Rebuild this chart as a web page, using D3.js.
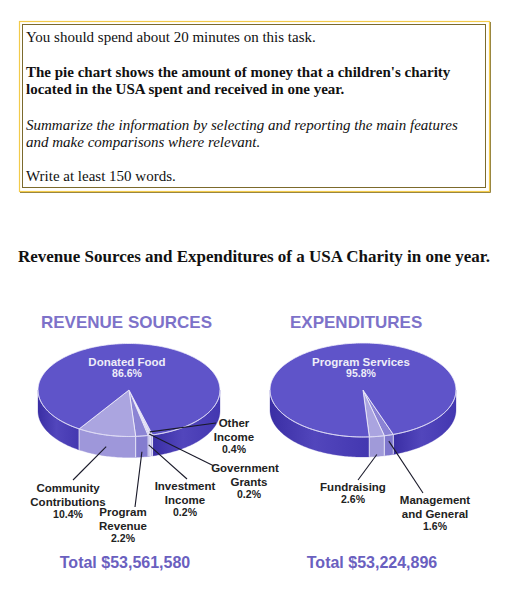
<!DOCTYPE html>
<html>
<head>
<meta charset="utf-8">
<script src="https://cdn.jsdelivr.net/npm/d3@7"></script>
<style>
  body { margin: 0; background: #fff; }
  svg { display: block; }
</style>
</head>
<body>
<div id="chart"></div>
<script>
// task prompt text
const promptLines = [
  "You should spend about 20 minutes on this task.",
  "The pie chart shows the amount of money that a children's charity",
  "located in the USA spent and received in one year.",
  "Summarize the information by selecting and reporting the main features",
  "and make comparisons where relevant.",
  "Write at least 150 words."
];
const chartTitle = "Revenue Sources and Expenditures of a USA Charity in one year.";

// revenue pie (clockwise from the front-right)
const revenueNames = ["Other Income", "Government Grants", "Investment Income", "Program Revenue", "Community Contributions", "Donated Food"];
const revenueValues = [0.4, 0.2, 0.2, 2.2, 10.4, 86.6];
const revenueTotal = "Total $53,561,580";

// expenditure pie
const expenseNames = ["Management and General", "Fundraising", "Program Services"];
const expenseValues = [1.6, 2.6, 95.8];
const expenseTotal = "Total $53,224,896";

const width = 505, height = 590;
const svg = d3.select("#chart").append("svg")
  .attr("width", width).attr("height", height);

/* ---- task box ---- */
svg.append("rect").attr("x", 19.5).attr("y", 21.5).attr("width", 470).attr("height", 170)
  .attr("fill", "none").attr("stroke", "#f3cb4a").attr("stroke-width", 1.2);
svg.append("path").attr("d", "M490.5,22V192.5H20")
  .attr("fill", "none").attr("stroke", "#9a8740").attr("stroke-width", 1);
svg.append("rect").attr("x", 22.5).attr("y", 24.5).attr("width", 463).attr("height", 163)
  .attr("fill", "none").attr("stroke", "#7c6a2c").attr("stroke-width", 1);

const promptStyle = [
  { y: 42, weight: "normal", style: "normal" },
  { y: 77, weight: "bold", style: "normal" },
  { y: 94, weight: "bold", style: "normal" },
  { y: 129.5, weight: "normal", style: "italic" },
  { y: 146.5, weight: "normal", style: "italic" },
  { y: 181, weight: "normal", style: "normal" }
];
svg.append("g")
  .selectAll("text")
  .data(promptLines)
  .join("text")
  .attr("x", 26)
  .attr("y", (d, i) => promptStyle[i].y)
  .attr("font-family", "'Liberation Serif', 'Times New Roman', serif")
  .attr("font-size", 15)
  .attr("font-weight", (d, i) => promptStyle[i].weight)
  .attr("font-style", (d, i) => promptStyle[i].style)
  .attr("fill", "#111")
  .text((d) => d);

svg.append("text")
  .attr("x", 18).attr("y", 262)
  .attr("font-family", "'Liberation Serif', 'Times New Roman', serif")
  .attr("font-size", 17).attr("font-weight", "bold")
  .attr("textLength", 472).attr("lengthAdjust", "spacingAndGlyphs")
  .attr("fill", "#111")
  .text(chartTitle);

/* ---- 3D pies ---- */
const defs = svg.append("defs");
function wallGradient(id, stops) {
  const g = defs.append("linearGradient").attr("id", id)
    .attr("x1", "0%").attr("x2", "100%").attr("y1", "0%").attr("y2", "0%");
  stops.forEach(([o, c]) => g.append("stop").attr("offset", o).attr("stop-color", c));
}
wallGradient("mainWall", [["0%", "#3a2ea4"], ["45%", "#5246bc"], ["100%", "#4337b0"]]);

const fmtPct = (v) => d3.format(".1f")(v) + "%";
const sans = "'Liberation Sans', Arial, sans-serif";

function drawPie(opts) {
  const { names, values, cx, cy, rx, ry, depth, start, topColors, wallColors, heading, headingX, total, totalX, labels } = opts;
  const g = svg.append("g");
  const arcs = d3.pie().sort(null)
    .startAngle(start).endAngle(start + 2 * Math.PI)(values);

  const pt = (a, k = 1, dy = 0) => [cx + Math.sin(a) * rx * k, cy - Math.cos(a) * ry * k + dy];
  const arcPoints = (a0, a1, dy) => {
    const n = Math.max(2, Math.ceil((a1 - a0) / 0.02));
    return d3.range(n + 1).map((i) => pt(a0 + (a1 - a0) * i / n, 1, dy));
  };
  const line = d3.line();

  // walls: parts of each slice facing the viewer
  arcs.forEach((d, i) => {
    [0, 1].forEach((k) => {
      const lo = Math.max(d.startAngle, Math.PI / 2 + 2 * Math.PI * k);
      const hi = Math.min(d.endAngle, 3 * Math.PI / 2 + 2 * Math.PI * k);
      if (hi <= lo) return;
      const pts = arcPoints(lo, hi, 0).concat(arcPoints(lo, hi, depth).reverse());
      g.append("path").attr("d", line(pts) + "Z")
        .attr("fill", wallColors[i]).attr("stroke", wallColors[i]).attr("stroke-width", 0.3);
    });
  });

  // slice boundaries on the wall
  arcs.forEach((d) => {
    const a = d.startAngle % (2 * Math.PI);
    if (a > Math.PI / 2 && a < 3 * Math.PI / 2) {
      const p0 = pt(a), p1 = pt(a, 1, depth);
      g.append("line").attr("x1", p0[0]).attr("y1", p0[1]).attr("x2", p1[0]).attr("y2", p1[1])
        .attr("stroke", "#eeeefa").attr("stroke-width", 0.9);
    }
  });

  // top faces
  g.selectAll("path.top")
    .data(arcs)
    .join("path")
    .attr("class", "top")
    .attr("d", (d) => line([[cx, cy]].concat(arcPoints(d.startAngle, d.endAngle, 0))) + "Z")
    .attr("fill", (d, i) => topColors[i])
    .attr("stroke", "#f2f1fb").attr("stroke-width", 0.8).attr("stroke-linejoin", "round");

  // rim highlight on the front edge
  g.append("path").attr("d", line(arcPoints(Math.PI / 2, 3 * Math.PI / 2, 0)))
    .attr("fill", "none").attr("stroke", "#d8d5f3").attr("stroke-width", 0.8).attr("opacity", 0.8);

  const big = arcs[arcs.length - 1];
  const bigText = g.append("text")
    .attr("x", cx).attr("text-anchor", "middle")
    .attr("font-family", sans)
    .attr("font-weight", "bold").attr("fill", "#eeedf8");
  bigText.append("tspan").attr("x", cx - 2).attr("y", cy - 24).attr("font-size", 11.5).text(names[names.length - 1]);
  bigText.append("tspan").attr("x", cx - 2).attr("y", cy - 13).attr("font-size", 10.5).text(fmtPct(big.data));

  // small-slice labels with leader lines
  arcs.slice(0, -1).forEach((d, i) => {
    const lab = labels[names[i]];
    const mid = (d.startAngle + d.endAngle) / 2;
    const p = pt(mid, lab.k, lab.h * depth);
    g.append("line").attr("x1", p[0]).attr("y1", p[1]).attr("x2", lab.lx).attr("y2", lab.ly)
      .attr("stroke", "#1a1a2a").attr("stroke-width", 1.1);
    const words = names[i].split(" ");
    const lines = words.length > 1 ? [words[0], words.slice(1).join(" ")] : [words[0]];
    const t = g.append("text")
      .attr("text-anchor", "middle")
      .attr("font-family", sans)
      .attr("font-weight", "bold").attr("font-size", 11.5).attr("fill", "#222");
    lines.forEach((s, j) => t.append("tspan").attr("x", lab.x + (j > 0 ? lab.dx2 || 0 : 0)).attr("y", lab.y + j * 13.5).text(s));
    t.append("tspan").attr("x", lab.x + (lab.dx2 || 0)).attr("y", lab.y + lines.length * 13.5 - 1.5)
      .attr("font-size", 10.5).text(fmtPct(d.data));
  });

  svg.append("text").attr("x", headingX).attr("y", 328)
    .attr("font-family", sans)
    .attr("font-weight", "bold").attr("font-size", 17).attr("fill", "#7d72c9")
    .text(heading);
  svg.append("text").attr("x", totalX).attr("y", 568).attr("text-anchor", "middle")
    .attr("font-family", sans)
    .attr("font-weight", "bold").attr("font-size", 16).attr("fill", "#6a60bf")
    .text(total);
}

const deg = Math.PI / 180;

drawPie({
  names: revenueNames, values: revenueValues,
  cx: 129, cy: 390, rx: 91, ry: 46.5, depth: 21, start: 165 * deg,
  topColors: ["#c9c5ef", "#a39de0", "#7f77cf", "#8b84d4", "#aba5e0", "#5f54c9"],
  wallColors: ["#bdb8ea", "#9891da", "#7870c9", "#847ccf", "#9e97da", "url(#mainWall)"],
  heading: "REVENUE SOURCES", headingX: 41, total: revenueTotal, totalX: 125,
  labels: {
    "Other Income": { k: 0.93, h: 0, lx: 216, ly: 423, x: 234, y: 427 },
    "Government Grants": { k: 0.97, h: 0, lx: 214, ly: 466, x: 245, y: 472, dx2: 4 },
    "Investment Income": { k: 1, h: 0.45, lx: 187, ly: 479, x: 185, y: 490 },
    "Program Revenue": { k: 1, h: 0.75, lx: 135, ly: 507, x: 123, y: 516 },
    "Community Contributions": { k: 1, h: 0.55, lx: 73, ly: 480, x: 68, y: 492 }
  }
});

drawPie({
  names: expenseNames, values: expenseValues,
  cx: 363, cy: 390, rx: 93, ry: 47, depth: 20, start: 161 * deg,
  topColors: ["#8a82d4", "#aaa4e0", "#5f54c9"],
  wallColors: ["#7f77cd", "#a09ad9", "url(#mainWall)"],
  heading: "EXPENDITURES", headingX: 290, total: expenseTotal, totalX: 372,
  labels: {
    "Management and General": { k: 1, h: 0.3, lx: 423, ly: 493, x: 435, y: 504 },
    "Fundraising": { k: 1, h: 0.9, lx: 358, ly: 480, x: 353, y: 491 }
  }
});
</script>
</body>
</html>
